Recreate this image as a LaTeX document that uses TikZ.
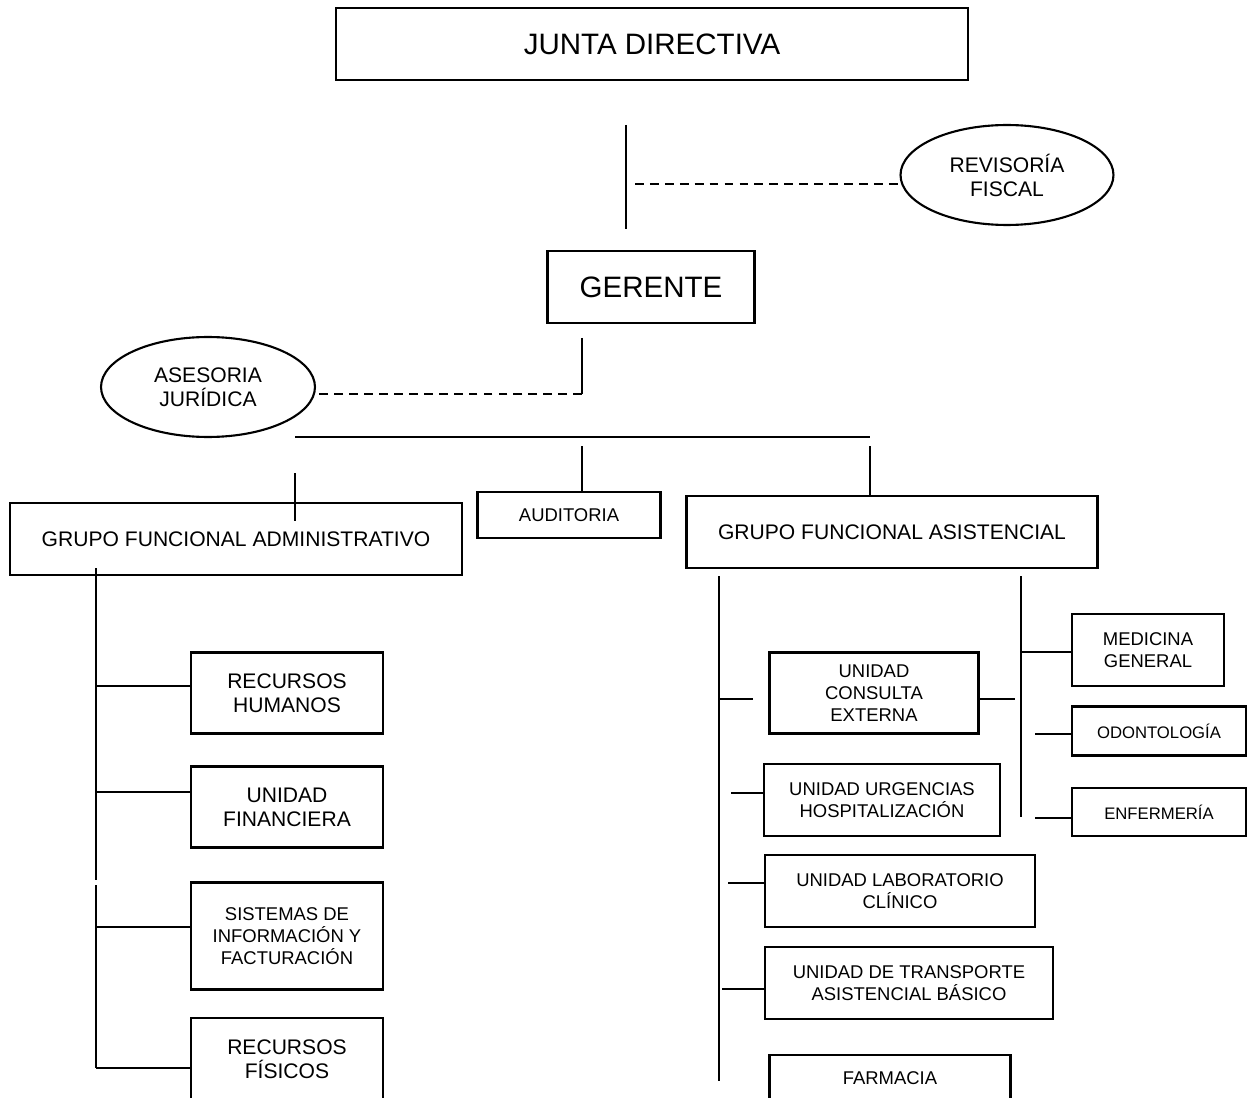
\documentclass[tikz,border=0pt]{standalone}
\usepackage{fontspec}
\setmainfont{Liberation Sans}
\usepackage{tikz}
\usetikzlibrary{shapes.geometric}

\newcommand{\bigtxt}{\fontsize{16.8}{19}\selectfont}
\newcommand{\midtxt}{\fontsize{12}{13.7}\selectfont}
\newcommand{\smalltxt}{\fontsize{10.5}{12.4}\selectfont}
\newcommand{\tinytxt}{\fontsize{9.5}{11}\selectfont}

\begin{document}
\begin{tikzpicture}[x=0.02cm, y=-0.02cm, line width=1.2pt,
    box/.style = {draw, rectangle, align=center, inner sep=0pt},
    oval/.style = {draw, ellipse, align=center, inner sep=0pt},
    dashline/.style = {dash pattern=on 5pt off 3.5pt}]
            \useasboundingbox (0,0) rectangle (1248,1098);

            % direccion
            \node [box, minimum width=12.64cm, minimum height=1.44cm, font=\bigtxt] (junta) at (652,44) {JUNTA DIRECTIVA};
            \node [oval, minimum width=4.26cm, minimum height=2cm, font=\midtxt] (revisoria) at (1007,175) {REVISORÍA\\FISCAL};
            \node [box, minimum width=4.14cm, minimum height=1.44cm, font=\bigtxt] (gerente) at (651,287) {GERENTE};
            \node [oval, minimum width=4.28cm, minimum height=2cm, font=\midtxt] (asesoria) at (208,387) {ASESORIA\\JURÍDICA};

            \coordinate (jg1) at (626,125);
            \coordinate (jg2) at (626,229);
            \coordinate (rf) at (635,184);
            \draw (jg1) -- (jg2);
            \draw [dashline] (rf) -- (rf -| revisoria.west);

            \coordinate (ga1) at (582,338);
            \coordinate (ga2) at (582,394);
            \draw (ga1) -- (ga2);
            \draw [dashline] (ga2) -- (ga2 -| asesoria.east);

            % grupos funcionales
            \node [box, minimum width=3.66cm, minimum height=0.92cm, font=\smalltxt] (auditoria) at (569,515) {AUDITORIA};
            \node [box, minimum width=9.04cm, minimum height=1.44cm, font=\midtxt] (gfadm) at (236,539) {GRUPO FUNCIONAL ADMINISTRATIVO};
            \node [box, minimum width=8.22cm, minimum height=1.44cm, font=\midtxt] (gfasis) at (892,532) {GRUPO FUNCIONAL ASISTENCIAL};

            \coordinate (hl) at (295,437);
            \coordinate (hr) at (870,437);
            \draw (hl) -- (hr);
            \coordinate (au) at (582,446);
            \draw (au) -- (au |- auditoria.north);
            \coordinate (as) at (870,446);
            \draw (as) -- (as |- gfasis.north);
            \coordinate (ad1) at (295,473);
            \coordinate (ad2) at (295,521);
            \draw (ad1) -- (ad2);

            % administrativo
            \node [box, minimum width=3.84cm, minimum height=1.62cm, font=\midtxt] (rrhh) at (287,693) {RECURSOS\\HUMANOS};
            \node [box, minimum width=3.84cm, minimum height=1.62cm, font=\midtxt] (financiera) at (287,807) {UNIDAD\\FINANCIERA};
            \node [box, minimum width=3.84cm, minimum height=2.14cm, font=\smalltxt] (sistemas) at (287,936) {SISTEMAS DE\\INFORMACIÓN Y\\FACTURACIÓN};
            \node [box, minimum width=3.84cm, minimum height=1.64cm, font=\midtxt] (fisicos) at (287,1059) {RECURSOS\\FÍSICOS};

            \coordinate (tl1) at (96,568);
            \coordinate (tl2) at (96,880);
            \coordinate (tl3) at (96,885);
            \coordinate (b1) at (96,686);
            \coordinate (b2) at (96,792);
            \coordinate (b3) at (96,927);
            \coordinate (b4) at (96,1068);
            \draw (tl1) -- (tl2);
            \draw (tl3) -- (b4);
            \draw (b1) -- (b1 -| rrhh.west);
            \draw (b2) -- (b2 -| financiera.west);
            \draw (b3) -- (b3 -| sistemas.west);
            \draw (b4) -- (b4 -| fisicos.west);

            % asistencial
            \node [box, minimum width=4.18cm, minimum height=1.62cm, font=\smalltxt] (consulta) at (874,693) {UNIDAD\\CONSULTA\\EXTERNA};
            \node [box, minimum width=4.72cm, minimum height=1.44cm, font=\smalltxt] (urgencias) at (882,800) {UNIDAD URGENCIAS\\HOSPITALIZACIÓN};
            \node [box, minimum width=5.4cm, minimum height=1.44cm, font=\smalltxt] (laboratorio) at (900,891) {UNIDAD LABORATORIO\\CLÍNICO};
            \node [box, minimum width=5.76cm, minimum height=1.44cm, font=\smalltxt] (transporte) at (909,983) {UNIDAD DE TRANSPORTE\\ASISTENCIAL BÁSICO};
            \node [box, minimum width=4.82cm, minimum height=0.92cm, font=\smalltxt] (farmacia) at (890,1078) {FARMACIA};

            \coordinate (tr1) at (719,576);
            \coordinate (tr2) at (719,1081);
            \draw (tr1) -- (tr2);
            \coordinate (c1) at (719,699);
            \coordinate (c2) at (753,699);
            \draw (c1) -- (c2);
            \coordinate (u1) at (731,793);
            \draw (u1) -- (u1 -| urgencias.west);
            \coordinate (l1) at (728,883);
            \draw (l1) -- (l1 -| laboratorio.west);
            \coordinate (t1) at (722,989);
            \draw (t1) -- (t1 -| transporte.west);

            % consulta externa
            \node [box, minimum width=3.04cm, minimum height=1.44cm, font=\smalltxt] (medicina) at (1148,650) {MEDICINA\\GENERAL};
            \node [box, minimum width=3.48cm, minimum height=0.98cm, font=\tinytxt] (odontologia) at (1159,731) {ODONTOLOGÍA};
            \node [box, minimum width=3.48cm, minimum height=0.96cm, font=\tinytxt] (enfermeria) at (1159,812) {ENFERMERÍA};

            \coordinate (ce) at (1015,699);
            \draw (ce -| consulta.east) -- (ce);
            \coordinate (s1) at (1021,576);
            \coordinate (s2) at (1021,817);
            \draw (s1) -- (s2);
            \coordinate (m1) at (1021,652);
            \draw (m1) -- (m1 -| medicina.west);
            \coordinate (o1) at (1035,734);
            \draw (o1) -- (o1 -| odontologia.west);
            \coordinate (e1) at (1035,818);
            \draw (e1) -- (e1 -| enfermeria.west);
\end{tikzpicture}
\end{document}
